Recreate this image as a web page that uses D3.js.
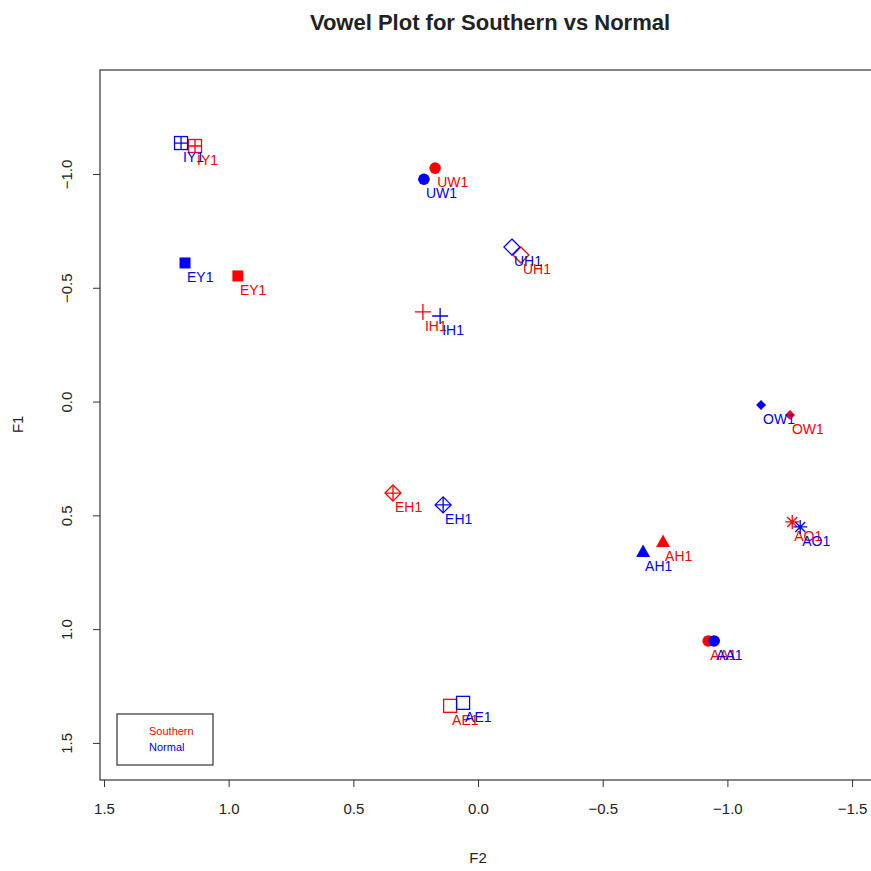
<!DOCTYPE html>
<html>
<head>
<meta charset="utf-8">
<script src="https://cdn.jsdelivr.net/npm/d3@7"></script>
<style>
  body { margin: 0; background: #ffffff; }
  svg { font-family: "Liberation Sans", Arial, Helvetica, sans-serif; }
</style>
</head>
<body>
<div id="chart"></div>
<script>
//vowel labels and the marker used for each one
var vowels = ["IY1", "UW1", "UH1", "EY1", "IH1", "OW1", "EH1", "AH1", "AO1", "AA1", "AE1"];
var shapes = ["squarePlus", "circle", "diamond", "squareFill", "plus", "smallDiamond", "diamondPlus", "triangle", "asterisk", "circle", "square"];

//normalised formant values
var normalF2 = [1.191, 0.217, -0.136, 1.175, 0.152, -1.135, 0.140, -0.662, -1.292, -0.947, 0.060];
var normalF1 = [-1.136, -0.977, -0.679, -0.609, -0.376, 0.015, 0.454, 0.661, 0.551, 1.052, 1.324];
var southernF2 = [1.135, 0.172, -0.172, 0.963, 0.221, -1.251, 0.341, -0.742, -1.260, -0.923, 0.112];
var southernF1 = [-1.123, -1.026, -0.644, -0.552, -0.394, 0.059, 0.402, 0.617, 0.529, 1.052, 1.337];

var xTicks = [1.5, 1.0, 0.5, 0.0, -0.5, -1.0, -1.5];
var yTicks = [-1.0, -0.5, 0.0, 0.5, 1.0, 1.5];
var legendLabels = ["Southern", "Normal"];
var legendColors = ["#ff0000", "#0000ff"];

var width = 871, height = 871;
//plot region edges (named so they don't clash with window.top)
var plotLeft = 100, plotRight = 880, plotTop = 70, plotBottom = 780;

var svg = d3.select("#chart").append("svg")
  .attr("width", width)
  .attr("height", height);

//both axes are reversed, like a vowel chart
var x = d3.scaleLinear().domain([1.516, -1.612]).range([plotLeft, plotRight]);
var y = d3.scaleLinear().domain([-1.457, 1.663]).range([plotTop, plotBottom]);

//
//draws one R style plotting symbol centred on 0,0
//
function drawShape(g, type, color) {
  var sw = 1.3;
  if (type == "circle") {
    g.append("circle").attr("r", 5.8).attr("fill", color);
  } else if (type == "squareFill") {
    g.append("rect").attr("x", -5.5).attr("y", -5.5).attr("width", 11).attr("height", 11).attr("fill", color);
  } else if (type == "square" || type == "squarePlus") {
    g.append("rect").attr("x", -6.5).attr("y", -6.5).attr("width", 13).attr("height", 13)
      .attr("fill", "none").attr("stroke", color).attr("stroke-width", sw);
    if (type == "squarePlus")
      g.append("path").attr("d", "M-6.5,0H6.5M0,-6.5V6.5").attr("stroke", color).attr("stroke-width", sw);
  } else if (type == "diamond" || type == "diamondPlus") {
    g.append("path").attr("d", "M0,-8L8,0L0,8L-8,0Z")
      .attr("fill", "none").attr("stroke", color).attr("stroke-width", sw);
    if (type == "diamondPlus")
      g.append("path").attr("d", "M-8,0H8M0,-8V8").attr("stroke", color).attr("stroke-width", sw);
  } else if (type == "smallDiamond") {
    g.append("path").attr("d", "M0,-5L5,0L0,5L-5,0Z").attr("fill", color);
  } else if (type == "plus") {
    g.append("path").attr("d", "M-8,0H8M0,-8V8").attr("stroke", color).attr("stroke-width", sw);
  } else if (type == "triangle") {
    g.append("path").attr("d", "M0,-7.5L7,5L-7,5Z").attr("fill", color);
  } else if (type == "asterisk") {
    g.append("path").attr("d", "M-7,0H7M0,-7V7M-5,-5L5,5M-5,5L5,-5")
      .attr("stroke", color).attr("stroke-width", sw);
  }
}

//
//plots one speaker group: symbols plus vowel labels
//
function plotGroup(f2, f1, color) {
  var pts = svg.append("g").selectAll("g")
    .data(vowels)
    .enter().append("g")
    .attr("transform", function(d, i) {
      return "translate(" + x(f2[i]) + "," + y(f1[i]) + ")";
    });

  pts.each(function(d, i) {
    drawShape(d3.select(this), shapes[i], color);
  });

  pts.append("text")
    .attr("x", 2)
    .attr("y", 19)
    .attr("fill", color)
    .attr("font-size", 14)
    .text(function(d) { return d; });
}

plotGroup(southernF2, southernF1, legendColors[0]);
plotGroup(normalF2, normalF1, legendColors[1]);

//box round the plot region
svg.append("rect")
  .attr("x", plotLeft).attr("y", plotTop)
  .attr("width", plotRight - plotLeft).attr("height", plotBottom - plotTop)
  .attr("fill", "none").attr("stroke", "#333").attr("stroke-width", 1.2);

var fmt = function(d) { return d3.format(".1f")(d); };

var xAxis = svg.append("g")
  .attr("transform", "translate(0," + plotBottom + ")")
  .call(d3.axisBottom(x).tickValues(xTicks).tickFormat(fmt).tickSize(7).tickPadding(16));
xAxis.select(".domain").remove();
xAxis.selectAll("line").attr("stroke", "#333");
xAxis.selectAll("text").attr("font-size", 15).attr("fill", "#222")
  .attr("font-family", "Liberation Sans, Arial, sans-serif");

var yAxis = svg.append("g")
  .attr("transform", "translate(" + plotLeft + ",0)")
  .call(d3.axisLeft(y).tickValues(yTicks).tickFormat(fmt).tickSize(7));
yAxis.select(".domain").remove();
yAxis.selectAll("line").attr("stroke", "#333");
//tick labels run along the axis like in R
yAxis.selectAll("text")
  .attr("font-size", 15).attr("fill", "#222")
  .attr("font-family", "Liberation Sans, Arial, sans-serif")
  .attr("text-anchor", "middle")
  .attr("dy", null)
  .attr("x", null)
  .attr("transform", "translate(-34,0) rotate(-90)")
  .attr("dominant-baseline", "central");

//titles
svg.append("text")
  .attr("x", (plotLeft + plotRight) / 2).attr("y", 30)
  .attr("text-anchor", "middle")
  .attr("font-size", 22).attr("font-weight", "bold").attr("fill", "#222")
  .text("Vowel Plot for Southern vs Normal");

svg.append("text")
  .attr("x", x(0)).attr("y", 863)
  .attr("text-anchor", "middle")
  .attr("font-size", 15).attr("fill", "#222")
  .text("F2");

svg.append("text")
  .attr("transform", "translate(23," + y(0.1) + ") rotate(-90)")
  .attr("text-anchor", "middle")
  .attr("font-size", 15).attr("fill", "#222")
  .text("F1");

//legend, text only
var legend = svg.append("g").attr("transform", "translate(117,714)");
legend.append("rect")
  .attr("width", 96).attr("height", 51)
  .attr("fill", "#fff").attr("stroke", "#333").attr("stroke-width", 1.2);
legend.selectAll("text")
  .data(legendLabels)
  .enter().append("text")
  .attr("x", 32)
  .attr("y", function(d, i) { return 21 + 16 * i; })
  .attr("font-size", 11)
  .attr("fill", function(d, i) { return legendColors[i]; })
  .text(function(d) { return d; });
</script>
</body>
</html>
